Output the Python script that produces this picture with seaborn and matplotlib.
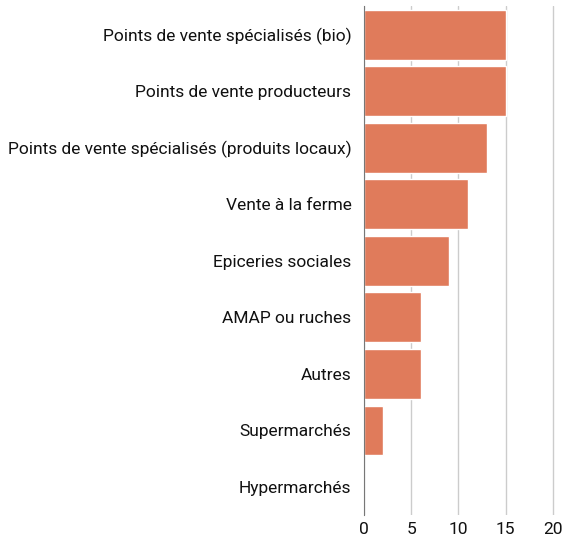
"""Points de vente - horizontal bar chart."""
import matplotlib.pyplot as plt
import pandas as pd
import seaborn as sns

categories = [
    "Points de vente spécialisés (bio)",
    "Points de vente producteurs",
    "Points de vente spécialisés (produits locaux)",
    "Vente à la ferme",
    "Epiceries sociales",
    "AMAP ou ruches",
    "Autres",
    "Supermarchés",
    "Hypermarchés",
]
values = [15, 15, 13, 11, 9, 6, 6, 2, 0]
x_ticks = [0, 5, 10, 15, 20]

sns.set_style("white")
plt.rcParams["font.family"] = ["Roboto", "DejaVu Sans"]
plt.rcParams["font.size"] = 12.5

df = pd.DataFrame({"Lieu": categories, "Nombre": values})

fig = plt.figure(figsize=(5.63, 5.40), dpi=100)
ax = fig.add_axes([0.6465, 0.046, 0.352, 0.942])

sns.barplot(data=df, x="Nombre", y="Lieu", color="#E07B5B",
            saturation=1, width=0.88, ax=ax, zorder=3)

ax.set_xlim(0, 21)
ax.set_xticks(x_ticks)
ax.grid(axis="x", color="#cccccc", linewidth=1, zorder=0)
for s in ["top", "right", "bottom"]:
    ax.spines[s].set_visible(False)
ax.spines["left"].set_color("#777777")
ax.spines["left"].set_zorder(4)
ax.tick_params(axis="both", length=0, labelsize=12.5, colors="#111111")
ax.tick_params(axis="x", pad=5)
ax.tick_params(axis="y", pad=9)
ax.set_xlabel("")
ax.set_ylabel("")

plt.savefig("out.png", dpi=100)
